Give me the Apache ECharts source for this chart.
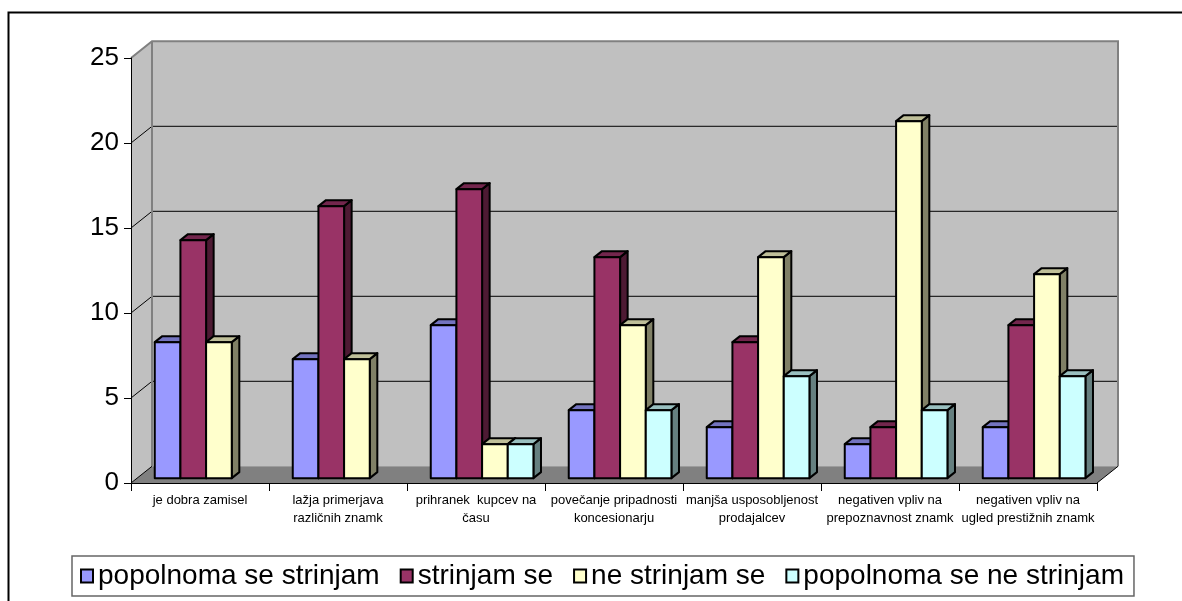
<!DOCTYPE html>
<html>
<head>
<meta charset="utf-8">
<script src="https://cdn.jsdelivr.net/npm/echarts@6/dist/echarts.min.js"></script>
<style>
  html, body { margin: 0; padding: 0; background: #fff; }
  #chart { width: 1182px; height: 601px; }
</style>
</head>
<body>
<div id="chart"></div>
<script>
// Survey answers per statement
const categories = [
  'je dobra zamisel',
  'lažja primerjava\nrazličnih znamk',
  'prihranek  kupcev na\nčasu',
  'povečanje pripadnosti\nkoncesionarju',
  'manjša usposobljenost\nprodajalcev',
  'negativen vpliv na\nprepoznavnost znamk',
  'negativen vpliv na\nugled prestižnih znamk'
];
const seriesNames = [
  'popolnoma se strinjam',
  'strinjam se',
  'ne strinjam se',
  'popolnoma se ne strinjam'
];
const fullyAgree    = [8, 7, 9, 4, 3, 2, 3];
const agree         = [14, 16, 17, 13, 8, 3, 9];
const disagree      = [8, 7, 2, 9, 13, 21, 12];
const fullyDisagree = [0, 0, 2, 4, 6, 4, 6];
const yTicks = [0, 5, 10, 15, 20, 25];

const seriesValues = [fullyAgree, agree, disagree, fullyDisagree];

// Face colours: front, top, side
const palette = [
  { front: '#9999FF', top: '#7373BF', side: '#4D4D80' },
  { front: '#993366', top: '#73264D', side: '#4D1A33' },
  { front: '#FFFFCC', top: '#BFBF99', side: '#808066' },
  { front: '#CCFFFF', top: '#99BFBF', side: '#668080' }
];

// Oblique projection of the depth axis (pixels)
const DEPTH_X = 21;
const DEPTH_Y = 16.7;
const BAR_FRONT = 0.29;   // bar front face position along depth
const BAR_DEPTH = 0.36;   // bar thickness along depth
const BAR_FRACTION = 0.186; // bar width as share of category band
const FONT = "'Liberation Sans', Arial, sans-serif";

const yMax = yTicks[yTicks.length - 1];

function renderBox(params, api) {
  const band = api.size([1, 0])[0];
  const left = api.coord([0, 0])[0] - band / 2;
  const right = api.coord([categories.length - 1, 0])[0] + band / 2;
  const bottom = api.coord([0, 0])[1];
  const top = api.coord([0, yMax])[1];
  const bl = left + DEPTH_X, br = right + DEPTH_X;
  const bt = top - DEPTH_Y, bb = bottom - DEPTH_Y;
  const wallFill = '#C0C0C0';
  const edge = { stroke: '#808080', lineWidth: 2, fill: null };
  const children = [
    { type: 'polygon', shape: { points: [[left, bottom], [bl, bb], [bl, bt], [left, top]] },
      style: { fill: wallFill } },
    { type: 'rect', shape: { x: bl, y: bt, width: br - bl, height: bb - bt },
      style: { fill: wallFill } },
    { type: 'polygon', shape: { points: [[left, bottom], [bl, bb], [br, bb], [right, bottom]] },
      style: { fill: '#808080' } }
  ];
  yTicks.forEach(function (t) {
    if (t === 0 || t === yMax) return;
    const y = api.coord([0, t])[1];
    children.push({ type: 'polyline',
      shape: { points: [[left, y], [bl, y - DEPTH_Y], [br, y - DEPTH_Y]] },
      style: { stroke: '#000', lineWidth: 1, fill: null } });
  });
  children.push(
    { type: 'polyline', shape: { points: [[left, top], [bl, bt], [br, bt], [br, bb]] }, style: edge },
    { type: 'line', shape: { x1: bl, y1: bt, x2: bl, y2: bb }, style: edge },
    { type: 'line', shape: { x1: left, y1: bottom, x2: bl, y2: bb },
      style: { stroke: '#000', lineWidth: 1 } },
    { type: 'line', shape: { x1: right, y1: bottom, x2: br, y2: bb },
      style: { stroke: '#000', lineWidth: 1 } }
  );
  return { type: 'group', children: children };
}

function makeBarRenderer(slot) {
  const col = palette[slot];
  const slots = seriesNames.length;
  return function (params, api) {
    const idx = api.value(0);
    const v = api.value(1);
    if (!v) return null;
    const band = api.size([1, 0])[0];
    const bw = band * BAR_FRACTION;
    const cx = api.coord([idx, 0])[0];
    const fx = BAR_FRONT * DEPTH_X, fy = BAR_FRONT * DEPTH_Y;
    const dx = BAR_DEPTH * DEPTH_X, dy = BAR_DEPTH * DEPTH_Y;
    const x0 = cx + (slot - slots / 2) * bw + fx;
    const x1 = x0 + bw;
    const yb = api.coord([idx, 0])[1] - fy;
    const yt = api.coord([idx, v])[1] - fy;
    const stroke = { stroke: '#000', lineWidth: 2, lineJoin: 'round' };
    return {
      type: 'group',
      children: [
        { type: 'polygon',
          shape: { points: [[x1, yt], [x1 + dx, yt - dy], [x1 + dx, yb - dy], [x1, yb]] },
          style: Object.assign({ fill: col.side }, stroke) },
        { type: 'polygon',
          shape: { points: [[x0, yt], [x1, yt], [x1 + dx, yt - dy], [x0 + dx, yt - dy]] },
          style: Object.assign({ fill: col.top }, stroke) },
        { type: 'rect',
          shape: { x: x0, y: yt, width: bw, height: yb - yt },
          style: Object.assign({ fill: col.front }, stroke) }
      ]
    };
  };
}

const chart = echarts.init(document.getElementById('chart'), null, { renderer: 'canvas' });

const series = [{
  type: 'custom',
  name: '',
  renderItem: renderBox,
  data: [[0, 0]],
  silent: true,
  z: 1
}];
seriesNames.forEach(function (name, s) {
  series.push({
    type: 'custom',
    name: name,
    renderItem: makeBarRenderer(s),
    itemStyle: { color: palette[s].front, borderColor: '#000', borderWidth: 2 },
    data: seriesValues[s].map(function (v, i) { return [i, v]; }),
    z: 2 + s
  });
});

chart.setOption({
  animation: false,
  backgroundColor: '#fff',
  grid: { left: 131, right: 85, top: 58, bottom: 118, containLabel: false },
  xAxis: {
    type: 'category',
    data: categories,
    z: 10,
    axisLine: { show: true, lineStyle: { color: '#000', width: 1 } },
    axisTick: { show: true, length: 8, lineStyle: { color: '#000', width: 1 } },
    axisLabel: { color: '#000', fontSize: 13, lineHeight: 18, margin: 8,
      fontFamily: FONT, interval: 0 },
    splitLine: { show: false }
  },
  yAxis: {
    type: 'value',
    min: 0, max: yMax, interval: 5,
    z: 10,
    axisLine: { show: true, lineStyle: { color: '#000', width: 1 } },
    axisTick: { show: true, length: 7, lineStyle: { color: '#000', width: 1 } },
    axisLabel: { color: '#000', fontSize: 26, margin: 12, fontFamily: FONT },
    splitLine: { show: false }
  },
  legend: {
    data: seriesNames,
    left: 72,
    top: 556,
    orient: 'horizontal',
    icon: 'rect',
    itemWidth: 12,
    itemHeight: 13,
    itemGap: 20,
    padding: [5, 10, 5, 8],
    borderColor: '#666',
    borderWidth: 1.5,
    backgroundColor: '#fff',
    itemStyle: { borderColor: '#000', borderWidth: 2 },
    textStyle: { color: '#000', fontSize: 28, lineHeight: 30, fontFamily: FONT }
  },
  graphic: [{
    type: 'rect',
    silent: true,
    shape: { x: 8.5, y: 12.5, width: 1200, height: 620 },
    style: { fill: null, stroke: '#000', lineWidth: 2 },
    z: 100
  }],
  series: series
});
</script>
</body>
</html>
